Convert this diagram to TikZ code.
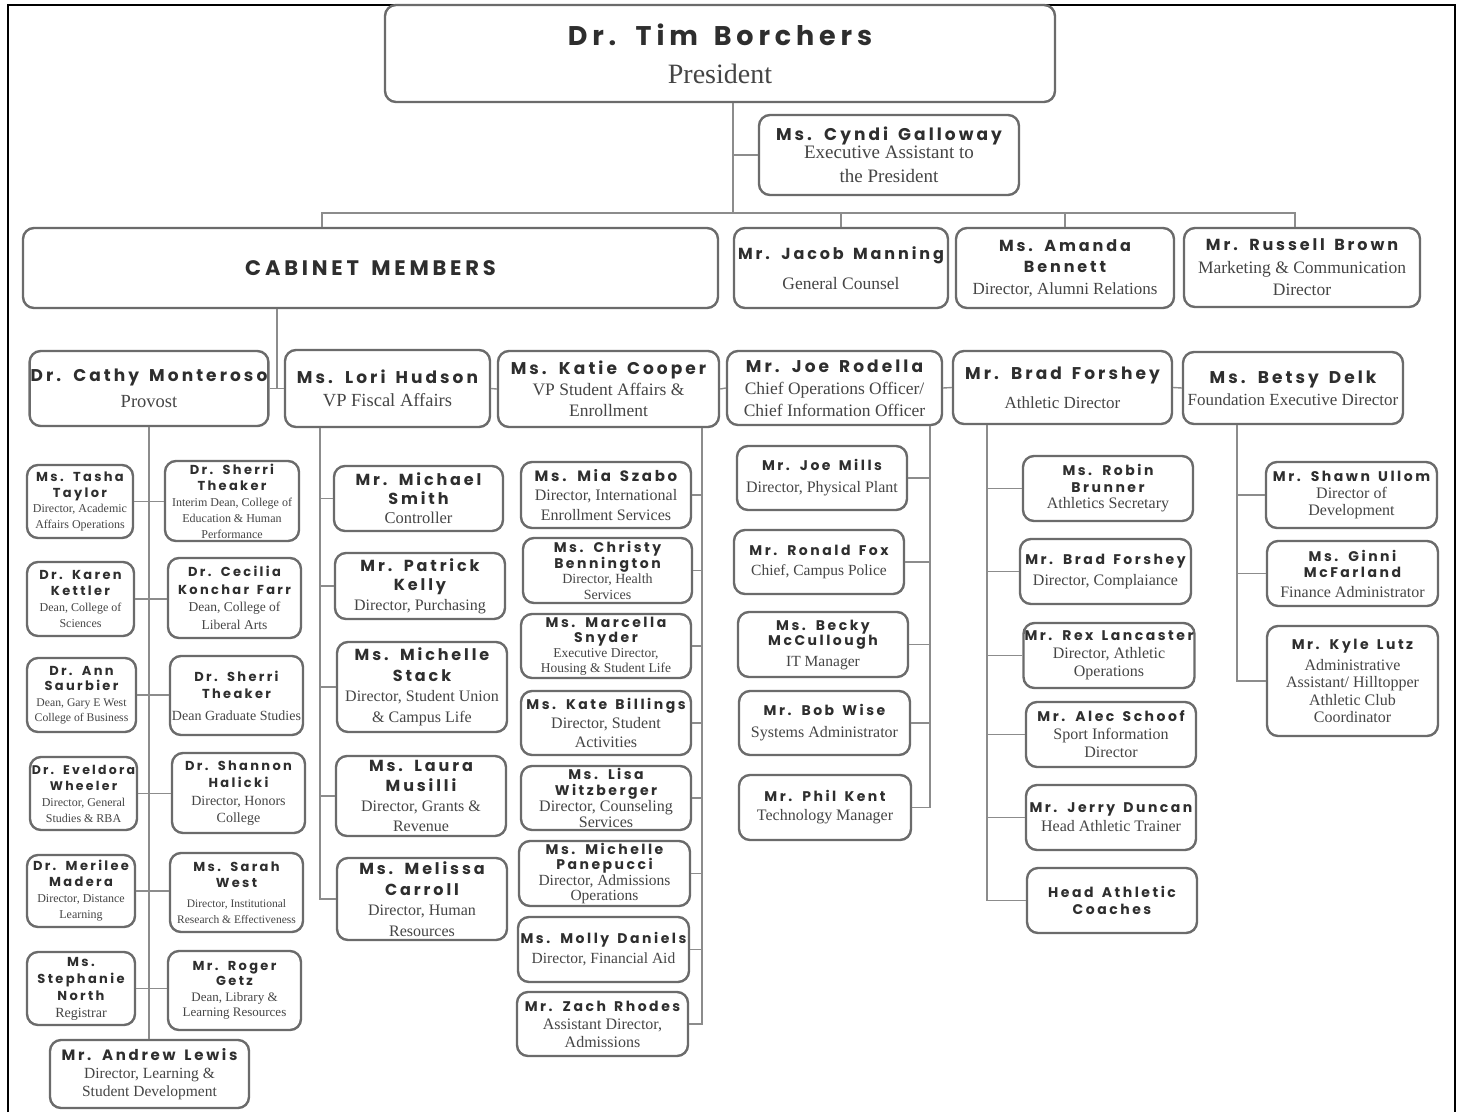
\documentclass[tikz,border=0pt]{standalone}
\usepackage{fontspec}
\usepackage{xcolor}
\setmainfont{Liberation Serif}
\newfontfamily\namefont{Poppins}[LetterSpace=18, WordSpace=1.5]

\definecolor{boxgray}{HTML}{6B6B6B}
\definecolor{linegray}{HTML}{8C8C8C}
\definecolor{namegray}{HTML}{2E2E2E}
\definecolor{titlegray}{HTML}{454545}

\def\pnamesize{14}
\newcommand{\pname}[1]{{\namefont\bfseries\fontsize{\pnamesize}{\pnamesize}\selectfont\color{namegray}#1}}

\tikzset{
  card/.style={draw=boxgray, line width=2.4pt, rounded corners=11pt, fill=white,
    align=center, inner sep=1pt, text=titlegray},
  nsz/.code={\def\pnamesize{#1}},
  tsz/.style 2 args={font=\fontsize{#1}{#2}\selectfont},
  link/.style={draw=linegray, line width=1.4pt},
}

\begin{document}
\begin{tikzpicture}[x=1pt,y=-1pt]
  \useasboundingbox (0,0) rectangle (1461,1112);
  \draw[line width=2.5pt] (8,1112) -- (8,5) -- (1455,5) -- (1455,1112);

  % top
  \node[card, minimum width=670, minimum height=97, nsz=27, tsz={28}{28}] (pres) at (720,53.5)
    {\pname{Dr. Tim Borchers}\\[10pt]President};
  \node[card, minimum width=260, minimum height=80, nsz=17, tsz={19}{24}] (cyndi) at (889,155)
    {\pname{Ms. Cyndi Galloway}\\[-6pt]Executive Assistant to\\the President};
  \node[card, minimum width=695, minimum height=80, nsz=21] (cab) at (370.5,268)
    {\pname{CABINET MEMBERS}};
  \node[card, minimum width=214, minimum height=80, nsz=16, tsz={17.5}{20}] (jacob) at (841,268)
    {\pname{Mr. Jacob Manning}\\[10pt]General Counsel};
  \node[card, minimum width=218, minimum height=80, nsz=16, tsz={17}{21.5}] (amanda) at (1065,268)
    {\pname{Ms. Amanda}\\\pname{Bennett}\\Director, Alumni Relations};
  \node[card, minimum width=236, minimum height=79, nsz=16, tsz={17.5}{22.5}] (russell) at (1302,267.5)
    {\pname{Mr. Russell Brown}\\Marketing \& Communication\\Director};

  % vp row
  \node[card, minimum width=238, minimum height=75, nsz=17, tsz={18.5}{26}] (cathy) at (149,388.5)
    {\pname{Dr. Cathy Monteroso}\\Provost};
  \node[card, minimum width=205, minimum height=77, nsz=17, tsz={18.5}{23}] (lori) at (387.5,388.5)
    {\pname{Ms. Lori Hudson}\\VP Fiscal Affairs};
  \node[card, minimum width=221, minimum height=76, nsz=17, tsz={17.5}{21}] (katie) at (608.5,389)
    {\pname{Ms. Katie Cooper}\\VP Student Affairs \&\\Enrollment};
  \node[card, minimum width=215, minimum height=74, nsz=17, tsz={17.5}{22}] (joer) at (834.5,388)
    {\pname{Mr. Joe Rodella}\\Chief Operations Officer/\\Chief Information Officer};
  \node[card, minimum width=219, minimum height=73, nsz=17, tsz={17}{19}] (brad) at (1062.5,387.5)
    {\pname{Mr. Brad Forshey}\\[10pt]Athletic Director};
  \node[card, minimum width=220, minimum height=72, nsz=17, tsz={17}{22}] (betsy) at (1293,388)
    {\pname{Ms. Betsy Delk}\\Foundation Executive Director};

  % provost, left column
  \node[card, minimum width=106, minimum height=73, nsz=13, tsz={12}{15.5}] (tasha) at (80,501.5)
    {\pname{Ms. Tasha}\\\pname{Taylor}\\Director, Academic\\Affairs Operations};
  \node[card, minimum width=107, minimum height=74, nsz=13, tsz={12}{16}] (karen) at (80.5,599)
    {\pname{Dr. Karen}\\\pname{Kettler}\\Dean, College of\\Sciences};
  \node[card, minimum width=109, minimum height=74, nsz=13, tsz={11.7}{15.5}] (ann) at (81.5,695)
    {\pname{Dr. Ann}\\\pname{Saurbier}\\Dean, Gary E West\\College of Business};
  \node[card, minimum width=107, minimum height=73, nsz=12.5, tsz={12}{16}] (eveldora) at (83.5,793.5)
    {\pname{Dr. Eveldora}\\\pname{Wheeler}\\Director, General\\Studies \& RBA};
  \node[card, minimum width=108, minimum height=72, nsz=13, tsz={12}{16}] (merilee) at (81,891)
    {\pname{Dr. Merilee}\\\pname{Madera}\\Director, Distance\\Learning};
  \node[card, minimum width=108, minimum height=73, nsz=13, tsz={14}{17}] (stephanie) at (81,988.5)
    {\pname{Ms.}\\\pname{Stephanie}\\\pname{North}\\Registrar};

  % provost, right column
  \node[card, minimum width=134, minimum height=80, nsz=13, tsz={12}{16}] (sherri) at (232,501)
    {\pname{Dr. Sherri}\\\pname{Theaker}\\Interim Dean, College of\\Education \& Human\\Performance};
  \node[card, minimum width=133, minimum height=80, nsz=13, tsz={13.5}{17.5}] (cecilia) at (234.5,598)
    {\pname{Dr. Cecilia}\\\pname{Konchar Farr}\\Dean, College of\\Liberal Arts};
  \node[card, minimum width=133, minimum height=79, nsz=13, tsz={14}{17}] (sherrig) at (236.5,695.5)
    {\pname{Dr. Sherri}\\\pname{Theaker}\\[5pt]Dean Graduate Studies};
  \node[card, minimum width=133, minimum height=80, nsz=13, tsz={14}{17.5}] (shannon) at (238.5,793)
    {\pname{Dr. Shannon}\\\pname{Halicki}\\Director, Honors\\College};
  \node[card, minimum width=133, minimum height=79, nsz=13, tsz={11.5}{16}] (sarah) at (236.5,892.5)
    {\pname{Ms. Sarah}\\\pname{West}\\[4pt]Director, Institutional\\Research \& Effectiveness};
  \node[card, minimum width=133, minimum height=79, nsz=13, tsz={13}{15.5}] (roger) at (234.5,990.5)
    {\pname{Mr. Roger}\\\pname{Getz}\\Dean, Library \&\\Learning Resources};
  \node[card, minimum width=199, minimum height=68, nsz=15, tsz={15.5}{18}] (andrew) at (149.5,1074)
    {\pname{Mr. Andrew Lewis}\\Director, Learning \&\\Student Development};

  % fiscal affairs
  \node[card, minimum width=169, minimum height=65, nsz=16, tsz={16.5}{19}] (michael) at (418.5,498.5)
    {\pname{Mr. Michael}\\\pname{Smith}\\Controller};
  \node[card, minimum width=170, minimum height=66, nsz=16, tsz={16}{19.5}] (patrick) at (420,586)
    {\pname{Mr. Patrick}\\\pname{Kelly}\\Director, Purchasing};
  \node[card, minimum width=170, minimum height=90, nsz=16, tsz={16}{20.5}] (mstack) at (422,687)
    {\pname{Ms. Michelle}\\\pname{Stack}\\Director, Student Union\\\& Campus Life};
  \node[card, minimum width=170, minimum height=80, nsz=16, tsz={16}{20}] (laura) at (421,796)
    {\pname{Ms. Laura}\\\pname{Musilli}\\Director, Grants \&\\Revenue};
  \node[card, minimum width=170, minimum height=82, nsz=16, tsz={16}{20.5}] (melissa) at (422,899)
    {\pname{Ms. Melissa}\\\pname{Carroll}\\Director, Human\\Resources};

  % student affairs
  \node[card, minimum width=170, minimum height=66, nsz=15, tsz={16}{19.5}] (mia) at (606,495)
    {\pname{Ms. Mia Szabo}\\Director, International\\Enrollment Services};
  \node[card, minimum width=169, minimum height=65, nsz=14, tsz={14}{15.5}] (christy) at (607.5,570.5)
    {\pname{Ms. Christy}\\\pname{Bennington}\\Director, Health\\Services};
  \node[card, minimum width=170, minimum height=64, nsz=14, tsz={13.5}{15}] (marcella) at (606,646)
    {\pname{Ms. Marcella}\\\pname{Snyder}\\Executive Director,\\Housing \& Student Life};
  \node[card, minimum width=170, minimum height=64, nsz=14, tsz={16}{19}] (kate) at (606,723)
    {\pname{Ms. Kate Billings}\\Director, Student\\Activities};
  \node[card, minimum width=170, minimum height=64, nsz=14, tsz={16}{16}] (lisa) at (606,798)
    {\pname{Ms. Lisa}\\\pname{Witzberger}\\Director, Counseling\\Services};
  \node[card, minimum width=171, minimum height=65, nsz=14, tsz={15.5}{15.5}] (mpan) at (604.5,873.5)
    {\pname{Ms. Michelle}\\\pname{Panepucci}\\Director, Admissions\\Operations};
  \node[card, minimum width=171, minimum height=65, nsz=14, tsz={15.5}{20}] (molly) at (603.5,949.5)
    {\pname{Ms. Molly Daniels}\\Director, Financial Aid};
  \node[card, minimum width=171, minimum height=64, nsz=14, tsz={16}{18}] (zach) at (602.5,1024)
    {\pname{Mr. Zach Rhodes}\\Assistant Director,\\Admissions};

  % operations
  \node[card, minimum width=170, minimum height=64, nsz=14, tsz={16}{22}] (mills) at (822,478)
    {\pname{Mr. Joe Mills}\\Director, Physical Plant};
  \node[card, minimum width=170, minimum height=64, nsz=14, tsz={15.5}{19.5}] (fox) at (819,562)
    {\pname{Mr. Ronald Fox}\\Chief, Campus Police};
  \node[card, minimum width=170, minimum height=65, nsz=14, tsz={15.5}{15}] (becky) at (823,644.5)
    {\pname{Ms. Becky}\\\pname{McCullough}\\[6pt]IT Manager};
  \node[card, minimum width=171, minimum height=64, nsz=14, tsz={16}{22}] (wise) at (824.5,723)
    {\pname{Mr. Bob Wise}\\Systems Administrator};
  \node[card, minimum width=172, minimum height=65, nsz=14, tsz={16}{19}] (kent) at (825,807.5)
    {\pname{Mr. Phil Kent}\\Technology Manager};

  % athletics
  \node[card, minimum width=170, minimum height=65, nsz=14, tsz={16}{16.5}] (robin) at (1108,488.5)
    {\pname{Ms. Robin}\\\pname{Brunner}\\Athletics Secretary};
  \node[card, minimum width=171, minimum height=65, nsz=14, tsz={16}{21}] (bradc) at (1105.5,571.5)
    {\pname{Mr. Brad Forshey}\\Director, Complaiance};
  \node[card, minimum width=170, minimum height=65, nsz=14, tsz={16}{18}] (rex) at (1109,655.5)
    {\pname{Mr. Rex Lancaster}\\Director, Athletic\\Operations};
  \node[card, minimum width=170, minimum height=65, nsz=14, tsz={16}{18}] (alec) at (1111,734.5)
    {\pname{Mr. Alec Schoof}\\Sport Information\\Director};
  \node[card, minimum width=170, minimum height=65, nsz=14, tsz={16}{19}] (jerry) at (1111,817.5)
    {\pname{Mr. Jerry Duncan}\\Head Athletic Trainer};
  \node[card, minimum width=170, minimum height=65, nsz=14, tsz={16}{17}] (coaches) at (1112,900.5)
    {\pname{Head Athletic}\\\pname{Coaches}};

  % foundation
  \node[card, minimum width=171, minimum height=66, nsz=14, tsz={16}{17}] (shawn) at (1351.5,495)
    {\pname{Mr. Shawn Ullom}\\Director of\\Development};
  \node[card, minimum width=171, minimum height=65, nsz=14, tsz={16}{16}] (ginni) at (1352.5,573.5)
    {\pname{Ms. Ginni}\\\pname{McFarland}\\[4pt]Finance Administrator};
  \node[card, minimum width=171, minimum height=110, nsz=14, tsz={16}{17.5}] (kyle) at (1352.5,681)
    {\pname{Mr. Kyle Lutz}\\[3pt]Administrative\\Assistant/ Hilltopper\\Athletic Club\\Coordinator};

  % trunk
  \coordinate (t0) at (733,213);
  \coordinate (b1) at (322,213);
  \coordinate (b2) at (1295,213);
  \draw[link] (pres.south -| t0) -- (t0);
  \draw[link] (cyndi.west) -- (cyndi.west -| t0);
  \draw[link] (b1 |- cab.north) -- (b1) -- (b2) -- (b2 |- russell.north);
  \draw[link] (jacob.north) -- (jacob.north |- t0);
  \draw[link] (amanda.north) -- (amanda.north |- t0);

  % cabinet row
  \coordinate (c0) at (277,388);
  \draw[link] (cab.south -| c0) -- (c0);
  \draw[link] (cathy.east) -- (lori.west);
  \draw[link] (lori.east) -- (katie.west);
  \draw[link] (katie.east) -- (joer.west);
  \draw[link] (joer.east) -- (brad.west);
  \draw[link] (brad.east) -- (betsy.west);

  % provost
  \draw[link] (cathy.south) -- (cathy.south |- andrew.north);
  \foreach \l/\r in {tasha/sherri, karen/cecilia, ann/sherrig, eveldora/shannon, merilee/sarah, stephanie/roger}
    \draw[link] (\l.east) -- (\l.east -| \r.west);

  % fiscal
  \coordinate (lb) at (320,899);
  \draw[link] (lori.south -| lb) -- (lb) -- (melissa.west);
  \foreach \n in {michael, patrick, mstack, laura}
    \draw[link] (\n.west) -- (\n.west -| lb);

  % student affairs
  \coordinate (kb) at (702,1024);
  \draw[link] (katie.south -| kb) -- (kb) -- (zach.east);
  \foreach \n in {mia, christy, marcella, kate, lisa, mpan, molly}
    \draw[link] (\n.east) -- (\n.east -| kb);

  % operations
  \coordinate (jb) at (930,807.5);
  \draw[link] (joer.south -| jb) -- (jb) -- (kent.east);
  \foreach \n in {mills, fox, becky, wise}
    \draw[link] (\n.east) -- (\n.east -| jb);

  % athletics
  \coordinate (ab) at (987,900.5);
  \draw[link] (brad.south -| ab) -- (ab) -- (coaches.west);
  \foreach \n in {robin, bradc, rex, alec, jerry}
    \draw[link] (\n.west) -- (\n.west -| ab);

  % foundation
  \coordinate (fb) at (1237,681);
  \draw[link] (betsy.south -| fb) -- (fb) -- (kyle.west);
  \foreach \n in {shawn, ginni}
    \draw[link] (\n.west) -- (\n.west -| fb);
\end{tikzpicture}
\end{document}
